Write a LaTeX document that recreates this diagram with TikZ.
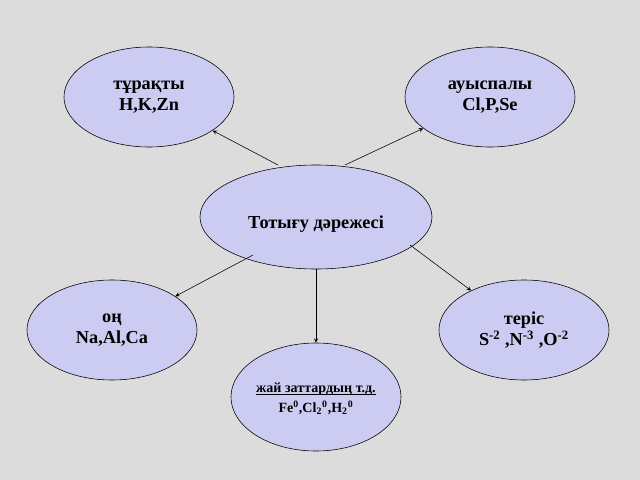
\documentclass[tikz,border=0pt]{standalone}
\usepackage{fontspec}
\setmainfont{Liberation Serif}
\usetikzlibrary{shapes.geometric,arrows}
\definecolor{bgcol}{HTML}{DCDCDC}
\definecolor{ovalcol}{HTML}{CCCCF2}
\tikzset{
  oval/.style={ellipse,draw=black,fill=ovalcol,minimum width=4.25cm,minimum height=2.5cm,
    align=center,font=\bfseries\fontsize{13}{15}\selectfont},
  small/.style={font=\bfseries\fontsize{10}{12}\selectfont,inner sep=0pt},
  link/.style={->,>=stealth,thin}
}
\begin{document}
\begin{tikzpicture}[x=0.025cm,y=-0.025cm]
  \fill[bgcol] (0,0) rectangle (640,480);

  \node[oval]                          (tur) at (149,97)  {тұрақты\\H,K,Zn};
  \node[oval]                          (auy) at (490,97)  {ауыспалы\\Cl,P,Se};
  \node[oval,minimum width=5.8cm,minimum height=2.6cm] (tot) at (316,217) {\\[4pt]Тотығу дәрежесі};
  \node[oval]                          (on)  at (112,330) {оң\\Na,Al,Ca};
  \node[oval]                          (ter) at (524,330) {теріс\\S\textsuperscript{-2} ,N\textsuperscript{-3} ,O\textsuperscript{-2}};
  \node[oval,minimum height=2.7cm]     (zhai) at (316,397) {};
  \node[small]                         (zhaiT) at (316,389) {жай заттардың т.д.};
  \node[small]                         (zhaiF) at (316,408) {Fe\textsuperscript{0},Cl\textsubscript{2}\textsuperscript{0},H\textsubscript{2}\textsuperscript{0}};
  \draw[thin] ([yshift=-1.5pt]zhaiT.base west) -- ([yshift=-1.5pt]zhaiT.base east);

  \draw[link] (278,165) -- (tur);
  \draw[link] (345,165) -- (auy);
  \draw[link] (253,255) -- (on);
  \draw[link] (410,245) -- (ter);
  \draw[link] (tot) -- (zhai);
\end{tikzpicture}
\end{document}
